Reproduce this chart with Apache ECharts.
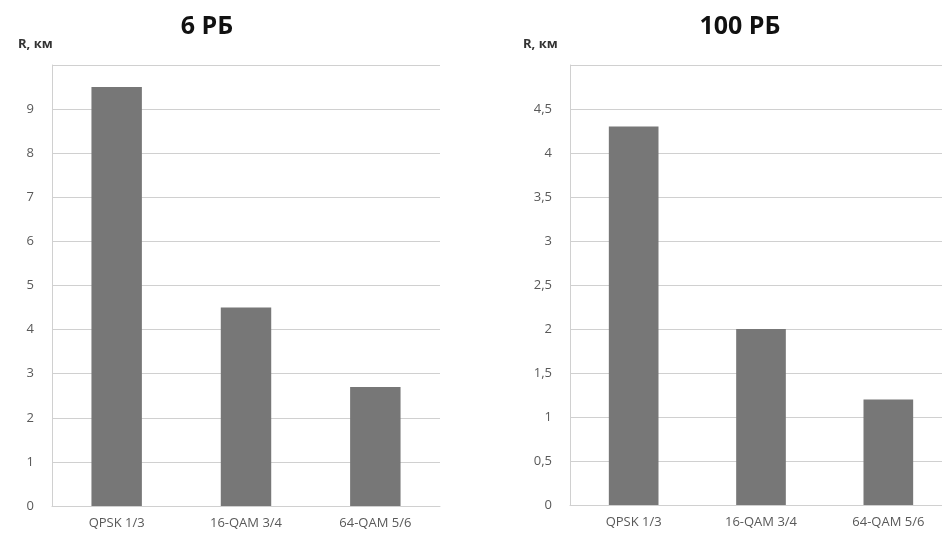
<!DOCTYPE html>
<html><head><meta charset="utf-8">
<script src="https://cdn.jsdelivr.net/npm/echarts@6/dist/echarts.min.js"></script>
<style>html,body{margin:0;padding:0;background:#fff;overflow:hidden}#c{width:970px;height:536px}</style>
</head><body><div id="c"></div>
<script>
const categories = ['QPSK 1/3', '16-QAM 3/4', '64-QAM 5/6'];
const values6 = [9.5, 4.5, 2.7];
const values100 = [4.3, 2.0, 1.2];
const titles = ['6 РБ', '100 РБ'];
const yName = 'R, км';

const chart = echarts.init(document.getElementById('c'));
const font = '"Open Sans", sans-serif';
const lbl = {color:'#595959', fontSize:13, fontFamily:font};
const comma = v => String(v).replace('.', ',');
function yAx(idx, max, interval){
  return {type:'value', gridIndex:idx, min:0, max:max, interval:interval,
    axisLine:{show:true, lineStyle:{color:'#d0d0d0'}}, axisTick:{show:false},
    splitLine:{lineStyle:{color:'#d0d0d0'}},
    axisLabel:Object.assign({showMaxLabel:false, margin:18, formatter:comma}, lbl)};
}
function xAx(idx){
  return {type:'category', gridIndex:idx, data:categories,
    axisLine:{lineStyle:{color:'#d0d0d0'}}, axisTick:{show:false},
    axisLabel:Object.assign({margin:11}, lbl)};
}
chart.setOption({
  animation:false,
  title:[
    {text:titles[0], left:202, top:9, textAlign:'center', textStyle:{fontFamily:font, fontSize:25, fontWeight:'bold', color:'#111'}},
    {text:titles[1], left:735, top:9, textAlign:'center', textStyle:{fontFamily:font, fontSize:25, fontWeight:'bold', color:'#111'}},
    {text:yName, left:13, top:33, textStyle:{fontFamily:font, fontSize:13, fontWeight:'bold', color:'#333'}},
    {text:yName, left:518, top:33, textStyle:{fontFamily:font, fontSize:13, fontWeight:'bold', color:'#333'}}
  ],
  grid:[
    {left:52, top:65, width:388, height:441},
    {left:570, top:65, width:382, height:440}
  ],
  xAxis:[xAx(0), xAx(1)],
  yAxis:[yAx(0, 10, 1), yAx(1, 5, 0.5)],
  series:[
    {type:'bar', xAxisIndex:0, yAxisIndex:0, data:values6, barWidth:'39%', itemStyle:{color:'#777777'}},
    {type:'bar', xAxisIndex:1, yAxisIndex:1, data:values100, barWidth:'39%', itemStyle:{color:'#777777'}}
  ]
});
</script></body></html>
